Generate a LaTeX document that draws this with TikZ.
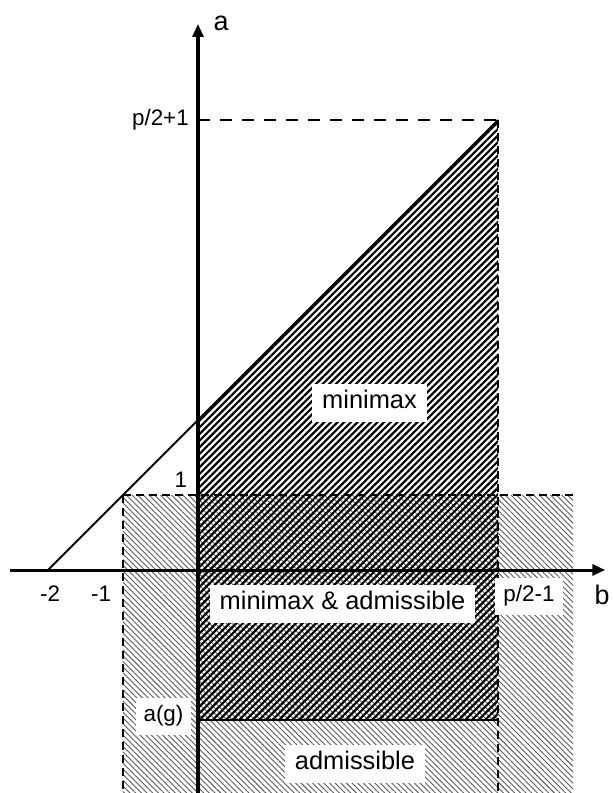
\documentclass[tikz,border=0pt]{standalone}
\usepackage{fontspec}
\setmainfont{Liberation Sans}
\usetikzlibrary{patterns.meta,arrows.meta}
\begin{document}
\begin{tikzpicture}[x=75bp,y=75bp,
  region/.style={fill=white, inner xsep=10bp, inner ysep=8bp, text height=17bp, text depth=5bp, font=\fontsize{25.5}{30}\selectfont},
  ticklbl/.style={inner sep=1bp, font=\fontsize{22.5}{27}\selectfont},
  axislbl/.style={inner sep=1bp, font=\fontsize{27}{32}\selectfont},
  boxlbl/.style={fill=white, inner xsep=8bp, inner ysep=8bp, text height=16bp, text depth=5bp, font=\fontsize{22.5}{27}\selectfont},
  dsh/.style={line width=1.6bp, dash pattern=on 8bp off 5bp},
  dshlong/.style={line width=1.6bp, dash pattern=on 12bp off 10bp},
  axisline/.style={line width=3bp, -{Triangle[length=13bp,width=11bp]}},
  darkhatch/.style={pattern={Lines[angle=45,distance=4.7bp,line width=2.2bp]}, pattern color=black},
  lighthatch/.style={pattern={Lines[angle=-45,distance=4bp,line width=0.9bp]}, pattern color=black!65}]
\useasboundingbox (-2.64,-2.9733) rectangle (5.5333,7.6);
% key points
\coordinate (O) at (0,0);
\coordinate (m2) at (-2,0);
\coordinate (m1) at (-1,1);
\coordinate (y2) at (0,2);
\coordinate (top) at (4,6);
\coordinate (y6) at (0,6);
\coordinate (g0) at (0,-2);
\coordinate (g4) at (4,-2);
\coordinate (r1) at (5,1);
\coordinate (lb) at (-1,-2.9733);
\coordinate (rb) at (5,-2.9733);
\coordinate (vb) at (4,-2.9733);
\coordinate (xs) at (-2.507,0);
\coordinate (xe) at (5.43,0);
\coordinate (ys) at (0,-2.9733);
\coordinate (ye) at (0,7.28);
% hatched regions
\fill[lighthatch] (lb) rectangle (r1);
\fill[darkhatch] (g0) -- (y2) -- (top) -- (g4) -- cycle;
% dashed lines
\draw[dshlong] (y6) -- (top);
\draw[dsh] (top) -- (vb);
\draw[dsh] (m1) -- (r1);
\draw[dsh] (m1) -- (lb);
% solid lines
\draw[line width=1.8bp] (m2) -- (top);
\draw[line width=1.8bp] (g0) -- (g4);
% axes
\draw[axisline] (xs) -- (xe);
\draw[axisline] (ys) -- (ye);
% labels
\node[axislbl] (la) at (0.307,7.29) {a};
\node[axislbl] (lbb) at (5.387,-0.333) {b};
\node[ticklbl] (lm2) at (-1.973,-0.32) {-2};
\node[ticklbl] (lm1) at (-1.293,-0.32) {-1};
\node[ticklbl] (l1) at (-0.227,1.2) {1};
\node[ticklbl, anchor=east] (lp1) at (-0.107,6.0) {p/2+1};
\node[boxlbl] (lp2) at (4.413,-0.35) {p/2-1};
\node[boxlbl] (lg) at (-0.46,-1.953) {a(g)};
\node[region] (lmm) at (2.287,2.233) {minimax};
\node[region] (lma) at (1.927,-0.453) {minimax \& admissible};
\node[region] (lad) at (2.093,-2.58) {admissible};
\end{tikzpicture}
\end{document}
